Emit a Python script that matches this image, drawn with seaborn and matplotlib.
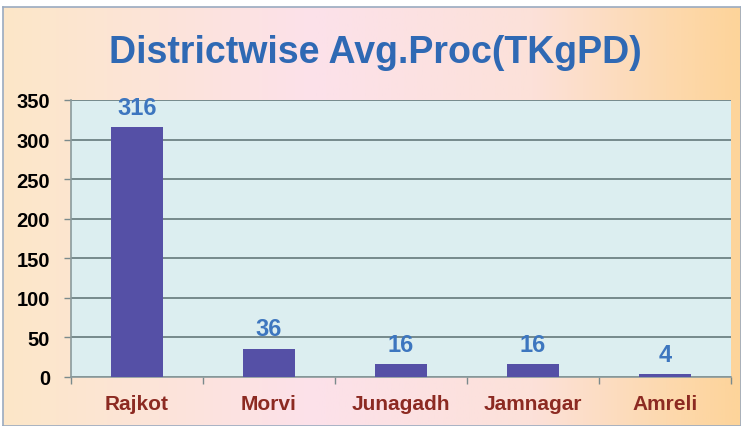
#!/usr/bin/env python3

import numpy as np
import pandas as pd
import seaborn as sns
from matplotlib import pyplot as plt
from matplotlib.colors import LinearSegmentedColormap
from matplotlib.ticker import FixedLocator

districts = ['Rajkot', 'Morvi', 'Junagadh', 'Jamnagar', 'Amreli']
avg_proc = [316, 36, 16, 16, 4]
y_ticks = [0, 50, 100, 150, 200, 250, 300, 350]


def plot(out_file):
    df = pd.DataFrame({'district': districts, 'avg': avg_proc})

    sns.set_theme(style="ticks")
    plt.rcParams['font.family'] = ['Liberation Sans', 'DejaVu Sans']

    f = plt.figure(figsize=(7.41, 4.27), dpi=100)
    f.patch.set_facecolor('white')

    # gradient background of the chart frame
    bg = f.add_axes([3 / 741, 0, 1 - 3 / 741, 419 / 427], zorder=0)
    cmap = LinearSegmentedColormap.from_list(
        'bg', [(0.0, '#FDE7C8'), (0.42, '#FCE1EA'), (0.72, '#FCE1D9'),
               (0.9, '#FDD9AE'), (1.0, '#FDD49A')])
    grad = np.linspace(0, 1, 256).reshape(1, -1)
    bg.imshow(grad, cmap=cmap, aspect='auto', extent=[0, 1, 0, 1])
    bg.set_xticks([])
    bg.set_yticks([])
    for s in bg.spines.values():
        s.set_color('#9AAAC0')
        s.set_linewidth(1.2)

    ax = f.add_axes([71 / 741, 49 / 427, 660 / 741, 277 / 427], zorder=1)
    ax.set_facecolor('#DCEEF0')

    sns.barplot(data=df, x='district', y='avg', color='#5550A6',
                saturation=1, width=0.39, linewidth=0, ax=ax, zorder=3)

    ax.bar_label(ax.containers[0], fmt='%d', padding=6,
                 fontsize=17, fontweight='bold', color='#3D76BF')

    ax.set_ylim(0, 350)
    ax.set_xlim(-0.5, len(districts) - 0.5)
    ax.set_yticks(y_ticks)
    ax.yaxis.grid(True, color='#6E8284', linewidth=1.3, zorder=1)
    ax.set_axisbelow(True)

    ax.xaxis.set_minor_locator(FixedLocator(np.arange(-0.5, len(districts), 1.0)))
    ax.tick_params(axis='x', which='major', length=0, pad=12)
    ax.tick_params(axis='x', which='minor', length=5, color='#7A8A8C', width=1)
    ax.tick_params(axis='y', length=5, color='#7A8A8C', width=1, pad=10)

    for lbl in ax.get_yticklabels():
        lbl.set_fontsize(14.5)
        lbl.set_fontweight('bold')
        lbl.set_color('black')
    for lbl in ax.get_xticklabels():
        lbl.set_fontsize(15)
        lbl.set_fontweight('bold')
        lbl.set_color('#8C2A22')

    for side in ['top', 'right']:
        ax.spines[side].set_visible(False)
    for side in ['left', 'bottom']:
        ax.spines[side].set_color('#8A9A9C')
        ax.spines[side].set_linewidth(1.2)

    ax.set_xlabel(None)
    ax.set_ylabel(None)

    f.text(375 / 741, 1 - 53 / 427, 'Districtwise Avg.Proc(TKgPD)',
           ha='center', va='center', fontsize=27, fontweight='bold',
           color='#2F69B4')

    f.savefig(out_file, dpi=100)


if __name__ == '__main__':
    plot('out.png')
